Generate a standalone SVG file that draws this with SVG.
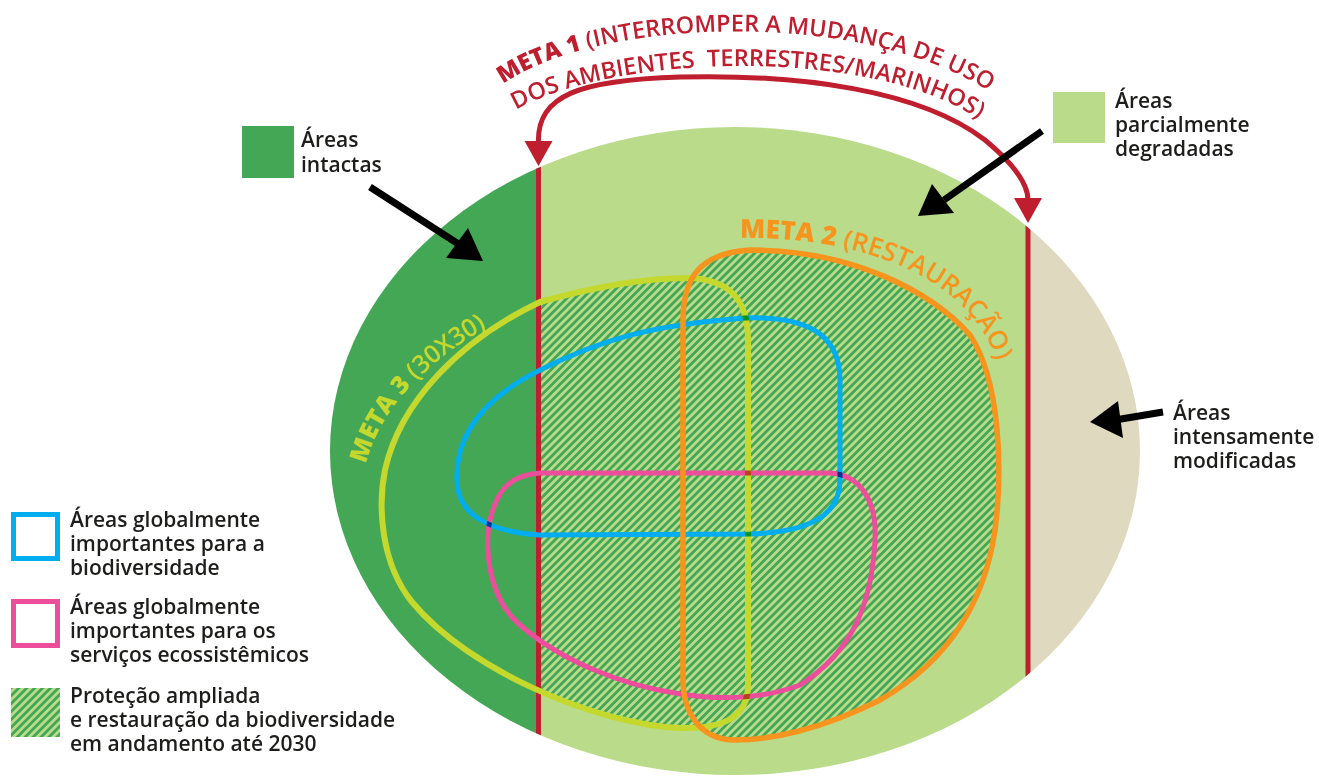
<svg xmlns="http://www.w3.org/2000/svg" width="1319" height="776" viewBox="0 0 1319 776">
<style>
.lbl{font-family:"Open Sans","Noto Sans","Liberation Sans",sans-serif;font-size:21px;font-weight:600;fill:#1d1d1b}
.red{font-family:"Open Sans","Noto Sans","Liberation Sans",sans-serif;font-size:23.5px;font-weight:600;fill:#be1e2d}
.meta2{font-family:"Open Sans","Noto Sans","Liberation Sans",sans-serif;font-size:26px;font-weight:600;fill:#f7941d}
.meta3{font-family:"Open Sans","Noto Sans","Liberation Sans",sans-serif;font-size:25px;font-weight:600;fill:#c4d82e}
.b{font-weight:800}
.outline{fill:none;stroke-linejoin:round}
.mul{mix-blend-mode:multiply}
.arrow{stroke:#000;stroke-width:7;fill:none}
.redline{stroke:#be1e2d;stroke-width:5;fill:none}
</style>
<defs>
<pattern id="hatch" width="5.6" height="5.6" patternUnits="userSpaceOnUse" patternTransform="rotate(45)">
<rect width="5.6" height="5.6" fill="#b9db8a"/>
<rect width="2.8" height="5.6" fill="#43a756"/>
</pattern>
<clipPath id="ell"><ellipse cx="735" cy="451" rx="405" ry="324"/></clipPath>
<clipPath id="hatchClip">
<path d="M 748,400 L 748,685 C 748,718 722,729 680,728 C 600,725 470,672 412,602 C 380,562 378,505 385,470 C 400,402 460,340 540,302 C 600,285 650,278 690,278 C 730,280 748,300 748,340 Z"/>
<path d="M 683,320 C 683,278 700,253 750,250 C 850,250 930,290 970,335 C 1000,380 1003,470 995,530 C 985,600 950,660 880,700 C 820,730 770,740 735,740 C 700,740 683,712 683,680 Z"/>
</clipPath>
<path id="p1" d="M 503,84 C 600,16 880,6 1004,102"/>
<path id="p2" d="M 516,110 C 610,55 880,42 990,127"/>
<path id="p3" d="M 740,238 C 880,236 1000,290 1003,400"/>
<path id="p4" d="M 366,464 C 380,410 425,358 510,315"/>
</defs>

<g id="ellipse-zones" clip-path="url(#ell)">
<rect x="300" y="100" width="238.5" height="700" fill="#43a756"/>
<rect x="538.5" y="100" width="489.5" height="700" fill="#b9db8a"/>
<rect x="1028" y="100" width="200" height="700" fill="#dfd9c0"/>
<g clip-path="url(#hatchClip)">
<rect x="538.5" y="240" width="489.5" height="520" fill="url(#hatch)"/>
</g>
<line class="redline" x1="538.5" y1="100" x2="538.5" y2="800"/>
<line class="redline" x1="1028" y1="100" x2="1028" y2="800"/>
</g>

<g id="outlines" style="isolation:isolate">
<path id="meta3-outline" class="outline mul" stroke="#c4d82e" stroke-width="6" d="M 748,400 L 748,685 C 748,718 722,729 680,728 C 600,725 470,672 412,602 C 380,562 378,505 385,470 C 400,402 460,340 540,302 C 600,285 650,278 690,278 C 730,280 748,300 748,340 Z"/>
<path id="biodiv-outline" class="outline mul" stroke="#00aeef" stroke-width="5" d="M 457,480 C 455,430 490,395 540,370 C 600,340 650,325 745,318 C 800,316 840,330 840,380 L 840,480 C 840,515 810,532 750,534 L 540,535 C 490,532 457,515 457,480 Z"/>
<path id="services-outline" class="outline mul" stroke="#ec4e9c" stroke-width="5" d="M 540,473 L 830,473 C 860,475 877,500 875,540 C 872,600 855,650 800,685 C 760,700 720,700 680,694 C 620,685 560,660 520,625 C 485,595 485,540 490,520 C 497,490 510,475 540,473 Z"/>
</g>
<path id="meta2-outline" class="outline" stroke="#f7941d" stroke-width="5.5" d="M 683,320 C 683,278 700,253 750,250 C 850,250 930,290 970,335 C 1000,380 1003,470 995,530 C 985,600 950,660 880,700 C 820,730 770,740 735,740 C 700,740 683,712 683,680 Z"/>

<g id="connectors">
<path id="meta1-arc" class="redline" stroke-width="4.5" d="M 538.5,143 C 536.5,95 580,80 680,77 C 800,74 920,90 985,140 C 1015,165 1028,185 1028,200"/>
<polygon fill="#be1e2d" points="524.5,141 552.5,141 538.5,166"/>
<polygon fill="#be1e2d" points="1014,198 1042,198 1028,223"/>
<line class="arrow" x1="370" y1="187" x2="460" y2="245"/>
<polygon points="483,261 446,258 468,228"/>
<line class="arrow" x1="1042" y1="131" x2="944" y2="200"/>
<polygon points="918,216 932,184 954,213"/>
<line class="arrow" x1="1163" y1="412" x2="1118" y2="419.5"/>
<polygon points="1090,422 1118,401 1123,438"/>
</g>

<g id="meta1-label">
<text class="red"><textPath href="#p1"><tspan class="b">META 1</tspan> (INTERROMPER A MUDANÇA DE USO</textPath></text>
<text class="red" xml:space="preserve"><textPath href="#p2">DOS AMBIENTES  TERRESTRES/MARINHOS)</textPath></text>
</g>
<g id="meta2-label">
<text class="meta2"><textPath href="#p3"><tspan class="b">META 2</tspan> (RESTAURAÇÃO)</textPath></text>
</g>
<g id="meta3-label">
<text class="meta3"><textPath href="#p4"><tspan class="b">META 3</tspan> (30X30)</textPath></text>
</g>

<g id="legend-intact">
<rect x="242" y="126" width="52" height="52" fill="#43a756"/>
<text class="lbl" x="301" y="147">Áreas</text>
<text class="lbl" x="301" y="172">intactas</text>
</g>
<g id="legend-partial">
<rect x="1053" y="92" width="52" height="51" fill="#b9db8a"/>
<text class="lbl" x="1115" y="108">Áreas</text>
<text class="lbl" x="1115" y="132">parcialmente</text>
<text class="lbl" x="1115" y="156">degradadas</text>
</g>
<g id="legend-modified">
<text class="lbl" x="1173" y="420">Áreas</text>
<text class="lbl" x="1173" y="444">intensamente</text>
<text class="lbl" x="1173" y="468">modificadas</text>
</g>
<g id="legend-biodiv">
<rect x="13.5" y="514.5" width="44" height="44" fill="none" stroke="#00aeef" stroke-width="5"/>
<text class="lbl" x="70" y="527">Áreas globalmente</text>
<text class="lbl" x="70" y="551">importantes para a</text>
<text class="lbl" x="70" y="575">biodiversidade</text>
</g>
<g id="legend-services">
<rect x="13.5" y="601.5" width="44" height="44" fill="none" stroke="#ec4e9c" stroke-width="5"/>
<text class="lbl" x="70" y="614">Áreas globalmente</text>
<text class="lbl" x="70" y="638">importantes para os</text>
<text class="lbl" x="70" y="662">serviços ecossistêmicos</text>
</g>
<g id="legend-hatch">
<rect x="11" y="688" width="49" height="49" fill="url(#hatch)"/>
<text class="lbl" x="70" y="703">Proteção ampliada</text>
<text class="lbl" x="70" y="727">e restauração da biodiversidade</text>
<text class="lbl" x="70" y="751">em andamento até 2030</text>
</g>
</svg>
